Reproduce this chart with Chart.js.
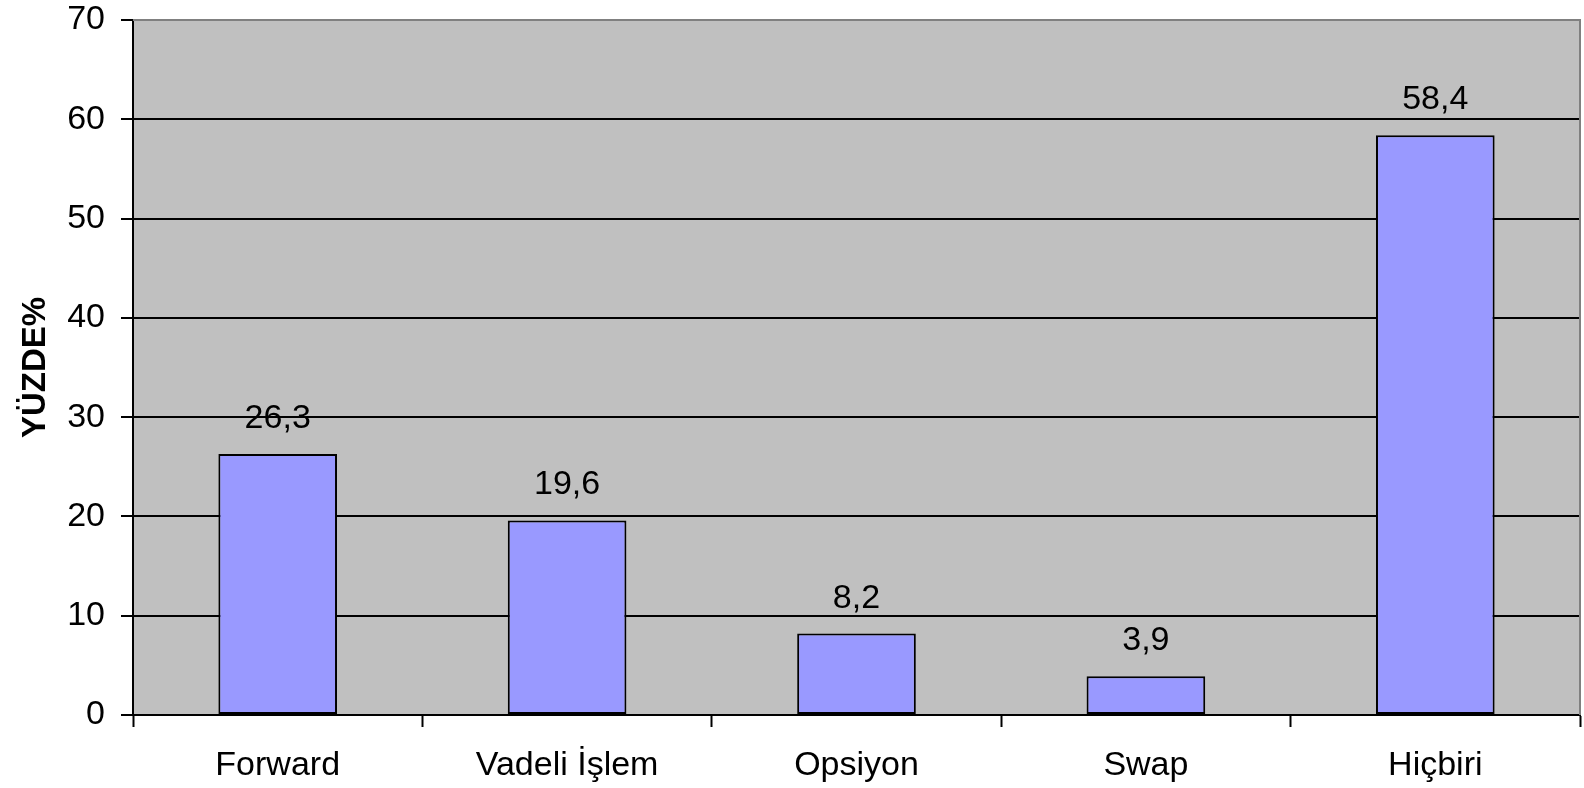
<!DOCTYPE html>
<html>
<head>
<meta charset="utf-8">
<script src="https://cdn.jsdelivr.net/npm/chart.js@4.4.1/dist/chart.umd.min.js"></script>
<style>
  html, body { margin: 0; padding: 0; background: #fff; }
  #wrap { width: 1584px; height: 788px; position: relative; }
</style>
</head>
<body>
<div id="wrap"><canvas id="c" width="1584" height="788"></canvas></div>
<script>
const categories = ['Forward', 'Vadeli İşlem', 'Opsiyon', 'Swap', 'Hiçbiri'];
const values = [26.3, 19.6, 8.2, 3.9, 58.4];
const yTitle = 'YÜZDE%';
const yMin = 0, yMax = 70, yStep = 10;

const FONT = '"Liberation Sans", Arial, sans-serif';
const FS = 34;

const plotBg = {
  id: 'plotBg',
  beforeDraw(chart) {
    const a = chart.chartArea, ctx = chart.ctx;
    ctx.save();
    ctx.fillStyle = '#C0C0C0';
    ctx.fillRect(a.left, a.top, a.right - a.left, a.bottom - a.top);
    ctx.restore();
  },
  afterDraw(chart) {
    const a = chart.chartArea, ctx = chart.ctx;
    ctx.save();
    ctx.strokeStyle = '#808080';
    ctx.lineWidth = 2;
    ctx.beginPath();
    ctx.moveTo(a.left, a.top);
    ctx.lineTo(a.right, a.top);
    ctx.lineTo(a.right, a.bottom);
    ctx.stroke();
    ctx.restore();
  }
};

const valueLabels = {
  id: 'valueLabels',
  afterDatasetsDraw(chart) {
    const ctx = chart.ctx;
    const meta = chart.getDatasetMeta(0);
    ctx.save();
    ctx.font = FS + 'px ' + FONT;
    ctx.fillStyle = '#000';
    ctx.textAlign = 'center';
    ctx.textBaseline = 'alphabetic';
    meta.data.forEach((bar, i) => {
      const txt = values[i].toFixed(1).replace('.', ',');
      ctx.fillText(txt, bar.x, bar.y - 26);
    });
    ctx.restore();
  }
};

new Chart(document.getElementById('c'), {
  type: 'bar',
  data: {
    labels: categories,
    datasets: [{
      data: values,
      backgroundColor: '#9999FF',
      borderColor: '#000',
      borderWidth: 2,
      borderSkipped: false,
      categoryPercentage: 1,
      barPercentage: 0.41
    }]
  },
  plugins: [plotBg, valueLabels],
  options: {
    responsive: false,
    animation: false,
    layout: { padding: { left: 0, top: 0, right: 4, bottom: 0 } },
    plugins: { legend: { display: false }, tooltip: { enabled: false } },
    scales: {
      x: {
        offset: true,
        grid: {
          offset: true,
          drawOnChartArea: false,
          drawTicks: true,
          tickLength: 12,
          tickColor: '#000',
          tickWidth: 2
        },
        border: { color: '#000', width: 2 },
        ticks: {
          color: '#000',
          font: { family: FONT, size: FS },
          padding: 18,
          maxRotation: 0,
          autoSkip: false
        },
        afterFit(scale) { scale.height = 73; }
      },
      y: {
        min: yMin,
        max: yMax,
        grid: {
          color: (c) => (c.tick && c.tick.value === yMax) ? '#808080' : '#000',
          lineWidth: 2,
          tickLength: 12,
          tickColor: '#000',
          tickWidth: 2
        },
        border: { color: '#000', width: 2 },
        ticks: {
          stepSize: yStep,
          color: '#000',
          font: { family: FONT, size: FS },
          padding: 16
        },
        title: {
          display: true,
          text: yTitle,
          color: '#000',
          font: { family: FONT, size: 33, weight: 'bold' },
          padding: { top: 16, bottom: 0 }
        },
        afterFit(scale) {
          scale.width = 133;
          scale.paddingTop = 20;
          scale.paddingBottom = 0;
        }
      }
    }
  }
});
</script>
</body>
</html>
